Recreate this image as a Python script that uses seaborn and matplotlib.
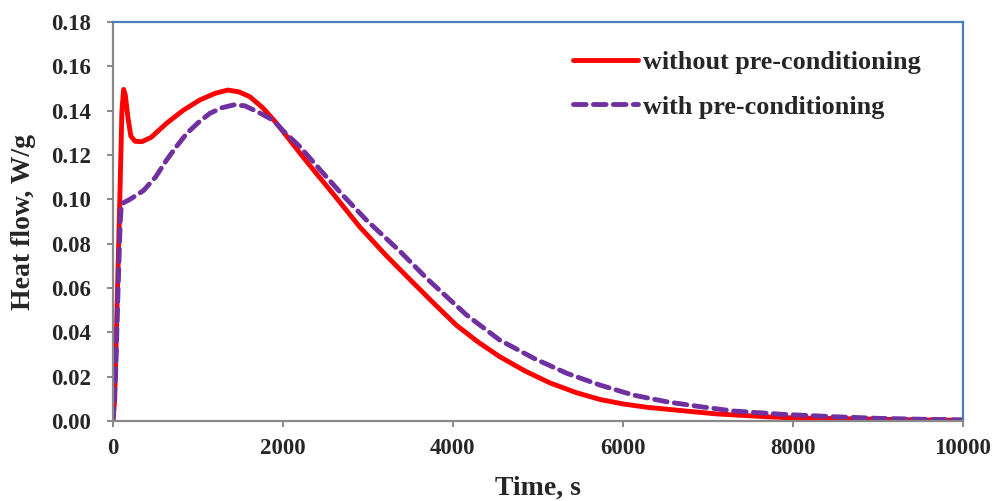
import matplotlib
matplotlib.use("Agg")
import matplotlib.pyplot as plt
import seaborn as sns
import pandas as pd

# Heat flow curves (time in s, heat flow in W/g)
time_without = [0, 20, 50, 80, 105, 125, 145, 175, 210, 260, 340, 450, 630, 820,
                1020, 1200, 1350, 1480, 1610, 1770, 1925, 2200, 2360, 2600, 2900,
                3200, 3450, 3750, 4040, 4300, 4550, 4850, 5140, 5450, 5730, 6000,
                6280, 6600, 7100, 7700, 8000, 8500, 9000, 9500, 10000]
flow_without = [0.0, 0.01, 0.055, 0.10, 0.14, 0.1496, 0.147, 0.137, 0.1285, 0.1262,
                0.126, 0.128, 0.1343, 0.140, 0.1448, 0.1478, 0.1493, 0.1485, 0.1463,
                0.141, 0.1343, 0.1208, 0.1132, 0.102, 0.0877, 0.0752, 0.0655, 0.0540,
                0.0432, 0.0355, 0.0290, 0.0225, 0.0172, 0.0128, 0.0097, 0.0077, 0.0062,
                0.0050, 0.0032, 0.0019, 0.0014, 0.0011, 0.0008, 0.0005, 0.0003]

time_with = [0, 30, 60, 85, 100, 200, 360, 500, 630, 750, 870, 1000, 1140, 1280,
             1420, 1550, 1700, 1880, 2000, 2200, 2440, 2700, 2980, 3380, 3700, 4160,
             4550, 4950, 5340, 5730, 6120, 6510, 6900, 7300, 7880, 8500, 9000, 9500,
             10000]
flow_with = [0.0, 0.02, 0.06, 0.09, 0.098, 0.100, 0.104, 0.110, 0.1177, 0.124, 0.1298,
             0.1345, 0.1388, 0.1413, 0.1426, 0.1422, 0.1395, 0.1358, 0.131, 0.1237,
             0.1132, 0.102, 0.0907, 0.0764, 0.064, 0.0478, 0.0365, 0.0283, 0.0215,
             0.0162, 0.0117, 0.0087, 0.0065, 0.0045, 0.003, 0.0019, 0.0012, 0.0008,
             0.0005]

labels = ["without pre-conditioning", "with pre-conditioning"]
x_ticks = [0, 2000, 4000, 6000, 8000, 10000]
y_ticks = [0.00, 0.02, 0.04, 0.06, 0.08, 0.10, 0.12, 0.14, 0.16, 0.18]

sns.set_style("white")
plt.rcParams["font.family"] = ["Liberation Serif", "DejaVu Serif"]
plt.rcParams["font.weight"] = "bold"

df_without = pd.DataFrame({"time": time_without, "flow": flow_without})
df_with = pd.DataFrame({"time": time_with, "flow": flow_with})

fig = plt.figure(figsize=(9.92, 5.01), dpi=100)
ax = fig.add_axes([113 / 992, 80 / 501, 850 / 992, 399 / 501])

sns.lineplot(data=df_without, x="time", y="flow", ax=ax, color="#FF0000",
             linewidth=3.5, errorbar=None, label=labels[0],
             solid_capstyle="round", solid_joinstyle="round")
sns.lineplot(data=df_with, x="time", y="flow", ax=ax, color="#7030A0",
             linewidth=3.5, errorbar=None, label=labels[1],
             linestyle=(0, (2.6, 1.5)), dash_capstyle="round")

ax.set_xlim(0, 10000)
ax.set_ylim(0, 0.18)
ax.set_xticks(x_ticks)
ax.set_xticklabels([str(v) for v in x_ticks])
ax.set_yticks(y_ticks)
ax.set_yticklabels([f"{v:.2f}" for v in y_ticks])

for s in ["left", "bottom"]:
    ax.spines[s].set_color("#898989")
    ax.spines[s].set_linewidth(1.6)
for s in ["top", "right"]:
    ax.spines[s].set_color("#4A7EBB")
    ax.spines[s].set_linewidth(1.6)
    ax.spines[s].set_visible(True)

ax.tick_params(axis="both", which="major", direction="out", length=4.5, width=1.4,
               color="#898989", labelsize=16.5)
ax.tick_params(axis="x", pad=8)
ax.tick_params(axis="y", pad=11)
ax.tick_params(left=True, bottom=True)
for lbl in ax.get_xticklabels() + ax.get_yticklabels():
    lbl.set_fontweight("bold")

ax.set_xlabel("Time, s", fontsize=20, fontweight="bold", labelpad=12)
ax.set_ylabel("Heat flow, W/g", fontsize=20, fontweight="bold", labelpad=11)

leg = ax.legend(loc="upper left", bbox_to_anchor=(0.541, 0.927), frameon=False,
                prop={"family": "Liberation Serif", "weight": "bold", "size": 18.8},
                handlelength=2.5, handletextpad=0.2, labelspacing=0.8,
                borderpad=0, borderaxespad=0)

fig.savefig("out.png", dpi=100)
